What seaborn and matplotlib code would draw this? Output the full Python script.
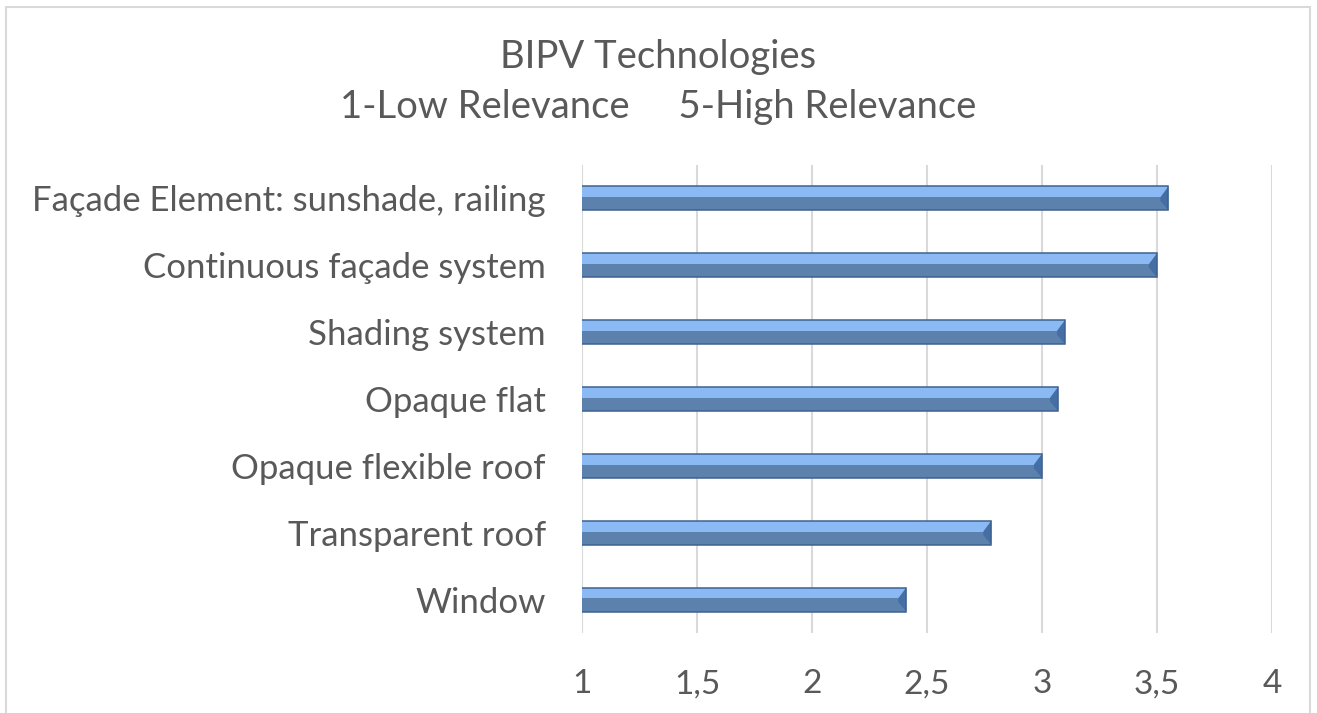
import matplotlib
matplotlib.use("Agg")
import matplotlib.pyplot as plt
import pandas as pd
import seaborn as sns
from matplotlib.patches import Rectangle, Polygon
from matplotlib.ticker import FuncFormatter

# Survey means
CATEGORIES = [
    "Façade Element: sunshade, railing",
    "Continuous façade system",
    "Shading system",
    "Opaque flat",
    "Opaque flexible roof",
    "Transparent roof",
    "Window",
]
SCORES = [3.55, 3.50, 3.10, 3.07, 3.00, 2.78, 2.41]
X_TICKS = [1, 1.5, 2, 2.5, 3, 3.5, 4]
TITLE_LINES = ["BIPV Technologies", "1-Low Relevance     5-High Relevance"]

TEXT = "#595959"
GRID = "#d9d9d9"
BAR_DARK = "#5080ba"
BAR_LIGHT = "#8ab9f4"
BAR_EDGE = "#3d6290"


def add_bevel(ax):
    # fake the Excel bevel: light top band and shaded end caps
    for p in ax.patches[:]:
        x0, y0 = p.get_x(), p.get_y()
        w, h = p.get_width(), p.get_height()
        ax.add_patch(Rectangle((x0, y0), w, h * 0.45, facecolor=BAR_LIGHT,
                               edgecolor="none", zorder=p.get_zorder() + 0.1))
        cap = 0.035
        ax.add_patch(Polygon([(x0, y0), (x0 + cap, y0 + h * 0.45), (x0 + cap, y0 + h * 0.6),
                              (x0, y0 + h)], closed=True, facecolor="#72a2de",
                             edgecolor="none", zorder=p.get_zorder() + 0.2))
        xe = x0 + w
        ax.add_patch(Polygon([(xe, y0), (xe - cap, y0 + h * 0.45), (xe - cap, y0 + h * 0.6),
                              (xe, y0 + h)], closed=True, facecolor="#446ea4",
                             edgecolor="none", zorder=p.get_zorder() + 0.2))
        ax.add_patch(Rectangle((x0, y0), w, h, facecolor="none", edgecolor=BAR_EDGE,
                               linewidth=1.1, zorder=p.get_zorder() + 0.3))


def main():
    sns.set_theme(style="white")
    plt.rcParams["font.family"] = ["Lato", "DejaVu Sans"]

    df = pd.DataFrame({"technology": CATEGORIES, "score": SCORES})

    fig = plt.figure(figsize=(13.17, 7.13), dpi=100)
    ax = fig.add_axes([0.4419, 0.1122, 0.5239, 0.6564])

    sns.barplot(data=df, x="score", y="technology", orient="h", color=BAR_DARK,
                width=0.36, edgecolor="none", ax=ax, zorder=3)
    add_bevel(ax)

    ax.set_xlim(1, 4)
    ax.set_xticks(X_TICKS)
    ax.xaxis.set_major_formatter(FuncFormatter(lambda v, _: f"{v:g}".replace(".", ",")))
    ax.grid(axis="x", color=GRID, linewidth=1.5, zorder=0)
    ax.set_axisbelow(True)
    for s in ax.spines.values():
        s.set_visible(False)
    ax.tick_params(axis="x", length=0, pad=26, labelsize=24, labelcolor=TEXT)
    ax.tick_params(axis="y", length=0, pad=26, labelsize=25, labelcolor=TEXT)
    ax.set_xlabel("")
    ax.set_ylabel("")

    fig.text(0.5, 1 - 57 / 713, TITLE_LINES[0], ha="center", va="center", fontsize=27.5, color=TEXT)
    fig.text(0.5, 1 - 107 / 713, TITLE_LINES[1], ha="center", va="center", fontsize=27.5, color=TEXT)

    # chart frame
    fig.patches.append(Rectangle((6 / 1317, -0.05), (1310 - 6) / 1317, 1.05 - 7 / 713,
                                 transform=fig.transFigure, facecolor="none",
                                 edgecolor=GRID, linewidth=1.5))

    fig.savefig("out.png", dpi=100, facecolor="white")
    plt.close(fig)


if __name__ == "__main__":
    main()
